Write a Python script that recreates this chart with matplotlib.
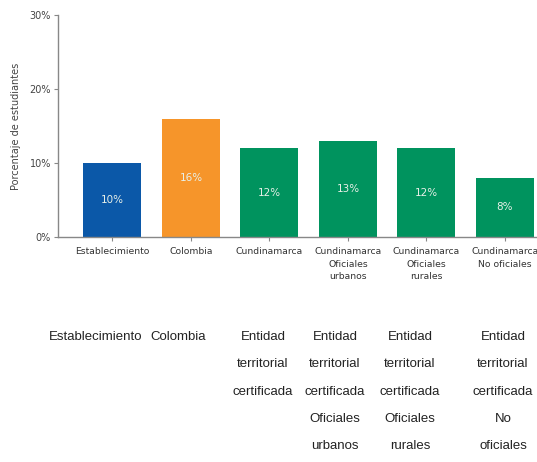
import matplotlib.pyplot as plt
import numpy as np

# data
categorias = ['Establecimiento', 'Colombia', 'Cundinamarca',
              'Cundinamarca\nOficiales\nurbanos',
              'Cundinamarca\nOficiales\nrurales',
              'Cundinamarca\nNo oficiales']
valores = [10, 16, 12, 13, 12, 8]
colores = ['#0b58a8', '#f6952a', '#00935e', '#00935e', '#00935e', '#00935e']
etiquetas_abajo = ['Establecimiento', 'Colombia',
                   'Entidad\nterritorial\ncertificada',
                   'Entidad\nterritorial\ncertificada\nOficiales\nurbanos',
                   'Entidad\nterritorial\ncertificada\nOficiales\nrurales',
                   'Entidad\nterritorial\ncertificada\nNo\noficiales']
yticks = [0, 10, 20, 30]

fig = plt.figure(figsize=(5.37, 4.62), dpi=100)
ax = fig.add_axes([58 / 537, 0.487, 479 / 537, 0.4805])

x = np.arange(len(valores))
bars = ax.bar(x, valores, width=0.74, color=colores)
for b, v in zip(bars, valores):
    ax.text(b.get_x() + b.get_width() / 2, v / 2, f'{v}%', ha='center', va='center',
            color='#e8f0e8', fontsize=7.5)

ax.set_xlim(-0.694, 5.41)
ax.set_ylim(0, 30)
ax.set_yticks(yticks)
ax.set_yticklabels([f'{t}%' for t in yticks], fontsize=7, color='#444444')
ax.set_xticks(x)
ax.set_xticklabels(categorias, fontsize=6.7, color='#333333', linespacing=1.55)
ax.tick_params(axis='x', length=3, color='#888888', pad=4)
ax.tick_params(axis='y', length=3, color='#888888', pad=2)
ax.set_ylabel('Porcentaje de estudiantes', fontsize=7, color='#444444', labelpad=6)
for s in ['top', 'right']:
    ax.spines[s].set_visible(False)
for s in ['left', 'bottom']:
    ax.spines[s].set_color('#888888')
    ax.spines[s].set_linewidth(1)

# second row of labels under the chart
centros = [96, 178, 263, 335, 410, 503]
for cx, txt in zip(centros, etiquetas_abajo):
    fig.text(cx / 537, 1 - 331 / 462, txt, ha='center', va='top',
             fontsize=9.5, color='#222222', linespacing=2.7,
             family=['Liberation Sans Narrow', 'Liberation Sans'])

fig.savefig('out.png', dpi=100)
